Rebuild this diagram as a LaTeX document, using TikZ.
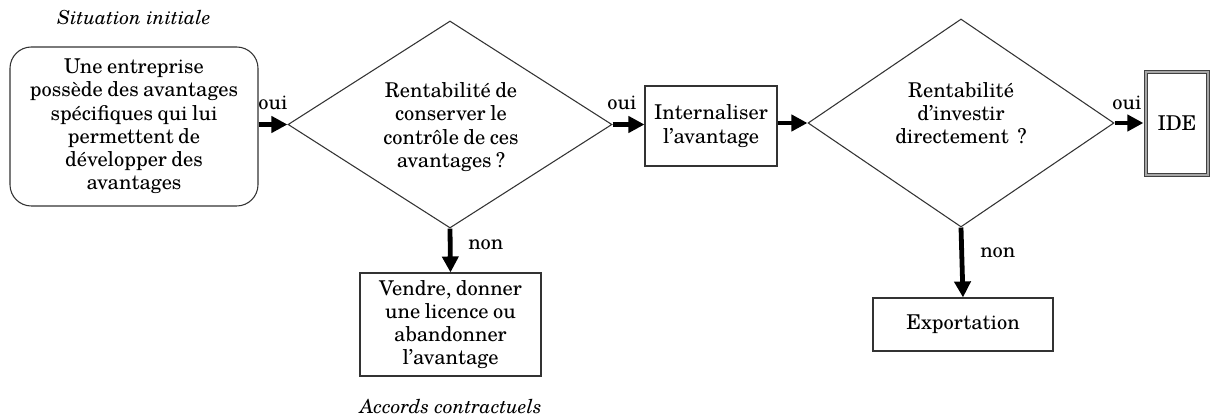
\documentclass[tikz,border=0pt]{standalone}
\usepackage{fontspec}
\setmainfont{TeX Gyre Schola}
\usetikzlibrary{arrows.meta,shapes.geometric}
\newcommand\mainfs{\fontsize{15.3}{17.4}\selectfont\spaceskip=0.22em plus 0.1em minus 0.05em\relax}
\newcommand\capfs{\fontsize{14.5}{17.25}\selectfont\itshape}
\begin{document}
\begin{tikzpicture}[x=0.75pt,y=-0.75pt,
  every node/.style={font=\mainfs, text=black},
  box/.style={draw=black!80, line width=0.8pt, rectangle, inner sep=0pt, align=center},
  dia/.style={draw=black!80, line width=0.8pt, diamond, inner sep=0pt},
  txt/.style={align=center, inner sep=0pt},
  arr/.style={line width=3.6pt, -{Triangle[length=12pt,width=12pt]}},
  lab/.style={inner sep=0pt, anchor=base},
  capt/.style={inner sep=0pt, font=\capfs}]
\useasboundingbox (0,0) rectangle (1211,416);

\node[capt] (sit) at (134,18) {Situation initiale};
\node[box, rounded corners=16pt, minimum width=186pt, minimum height=119.25pt] (start) at (134,126.5)
  {Une entreprise\\possède des avantages\\spécifiques qui lui\\permettent de\\développer des\\avantages};

\node[dia, minimum width=243pt, minimum height=155.25pt] (d1) at (450,124.5) {};
\node[txt] (d1t) at (451,127) {Rentabilité de\\conserver le\\contrôle de ces\\avantages ?};

\node[box, minimum width=135.75pt, minimum height=77.25pt] (vendre) at (450.5,324.5)
  {Vendre, donner\\une licence ou\\abandonner\\l’avantage};
\node[capt] (acc) at (451,407) {Accords contractuels};

\node[box, minimum width=99pt, minimum height=60pt] (intern) at (711,126) {Internaliser\\l’avantage};

\node[dia, minimum width=229.5pt, minimum height=156pt] (d2) at (961,123) {};
\node[txt] (d2t) at (961,113) {Rentabilité\\d’investir\\directement\ \ ?};

\node[box, draw=black!75, double=black!35, double distance=1.6pt, line width=0.9pt,
  minimum width=46.5pt, minimum height=77.25pt] (ide) at (1177,123.5) {IDE};

\node[box, minimum width=135pt, minimum height=39.75pt] (export) at (963,324.5) {Exportation};

\draw[arr] (start.east |- d1.west) -- (d1.west);
\draw[arr] (d1.south) -- (vendre.north);
\draw[arr] (d1.east) -- (intern.west |- d1.east);
\draw[arr] (intern.east |- d2.west) -- (d2.west);
\draw[arr, shorten >=1.5pt] (d2.east) -- (ide.west |- d2.east);
\draw[arr] (d2.south) -- (export.north);

\node[lab] (oui1) at (273,110) {oui};
\node[lab] (oui2) at (622,110) {oui};
\node[lab] (oui3) at (1127,110) {oui};
\node[lab, anchor=base west] (non1) at (468,250) {non};
\node[lab, anchor=base west] (non2) at (980,258) {non};
\end{tikzpicture}
\end{document}
